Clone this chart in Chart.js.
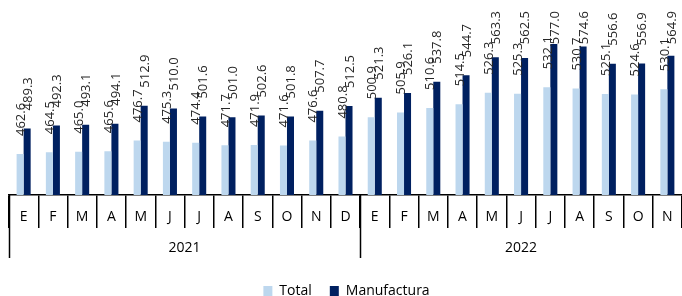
<!DOCTYPE html>
<html>
<head>
<meta charset="utf-8">
<script src="https://cdn.jsdelivr.net/npm/chart.js@4/dist/chart.umd.min.js"></script>
<style>
  html, body { margin: 0; padding: 0; background: #fff; overflow: hidden; }
  #wrap { width: 682px; height: 296px; }
</style>
</head>
<body>
<div id="wrap"><canvas id="manuf-bar"></canvas></div>
<script>
var months = ["E","F","M","A","M","J","J","A","S","O","N","D",
              "E","F","M","A","M","J","J","A","S","O","N"];
var years = ["2021", "2022"];
var yearSizes = [12, 11];
var total = [462.6, 464.5, 465.0, 465.6, 476.7, 475.3, 474.4, 471.7, 471.9, 471.6, 476.6, 480.8,
             500.9, 505.9, 510.6, 514.5, 526.3, 525.3, 532.1, 530.7, 525.1, 524.6, 530.1];
var manufactura = [489.3, 492.3, 493.1, 494.1, 512.9, 510.0, 501.6, 501.0, 502.6, 501.8, 507.7, 512.5,
                   521.3, 526.1, 537.8, 544.7, 563.3, 562.5, 577.0, 574.6, 556.6, 556.9, 564.9];

var FONT = '"Open Sans", "Liberation Sans", sans-serif';

// rotated value labels above each bar
var barLabels = {
    id: "barLabels",
    afterDatasetsDraw: function(chart) {
        var ctx = chart.ctx;
        ctx.save();
        ctx.font = "13px " + FONT;
        ctx.fillStyle = "#262626";
        chart.data.datasets.forEach(function(ds, i) {
            chart.getDatasetMeta(i).data.forEach(function(bar, j) {
                var txt = ds.data[j].toFixed(1);
                var w = ctx.measureText(txt).width;
                var yb = Math.max(bar.y - 18, 11 + w);
                ctx.save();
                ctx.translate(bar.x + 1, yb);
                ctx.rotate(-Math.PI / 2);
                ctx.textAlign = "left";
                ctx.textBaseline = "middle";
                ctx.fillText(txt, 0, 0);
                ctx.restore();
            });
        });
        ctx.restore();
    }
};

// year row under the month labels
var yearGroups = {
    id: "yearGroups",
    afterDraw: function(chart) {
        var ctx = chart.ctx;
        var sx = chart.scales.x;
        var half = (sx.getPixelForValue(1) - sx.getPixelForValue(0)) / 2;
        ctx.save();
        ctx.strokeStyle = "#000";
        ctx.lineWidth = 1.5;
        ctx.fillStyle = "#000";
        ctx.font = "14px " + FONT;
        ctx.textAlign = "center";
        ctx.textBaseline = "middle";
        var start = 0;
        years.forEach(function(yr, k) {
            var left = sx.getPixelForValue(start) - half;
            var right = sx.getPixelForValue(start + yearSizes[k] - 1) + half;
            ctx.beginPath();
            ctx.moveTo(Math.round(left) + 0.5, sx.top);
            ctx.lineTo(Math.round(left) + 0.5, sx.top + 63);
            ctx.stroke();
            ctx.fillText(yr, (left + right) / 2, sx.top + 53);
            start += yearSizes[k];
        });
        ctx.restore();
    }
};

var config = {
    type: "bar",
    data: {
        labels: months,
        datasets: [{
            label: "Total",
            data: total,
            backgroundColor: "#BDD7EE",
            borderWidth: 0
        }, {
            label: "Manufactura",
            data: manufactura,
            backgroundColor: "#002060",
            borderWidth: 0
        }]
    },
    options: {
        responsive: true,
        maintainAspectRatio: false,
        animation: false,
        layout: { padding: { top: 22, left: 9, right: -2, bottom: -12 } },
        datasets: { bar: { categoryPercentage: 0.48, barPercentage: 1.0 } },
        scales: {
            x: {
                grid: {
                    offset: true,
                    drawOnChartArea: false,
                    drawTicks: true,
                    tickLength: 33,
                    color: "#000",
                    lineWidth: 1.5
                },
                border: { display: true, color: "#000", width: 1.5 },
                ticks: {
                    color: "#000",
                    font: { family: FONT, size: 14 },
                    padding: -19,
                    maxRotation: 0,
                    autoSkip: false
                },
                afterFit: function(scale) { scale.height = 71; }
            },
            y: {
                display: false,
                min: 420,
                max: 600
            }
        },
        plugins: {
            legend: {
                position: "bottom",
                labels: {
                    boxWidth: 9,
                    boxHeight: 10,
                    padding: 18,
                    color: "#000",
                    font: { family: FONT, size: 14 }
                }
            },
            tooltip: { enabled: false }
        }
    },
    plugins: [barLabels, yearGroups]
};

var barChart = new Chart(document.getElementById("manuf-bar"), config);
</script>
</body>
</html>
